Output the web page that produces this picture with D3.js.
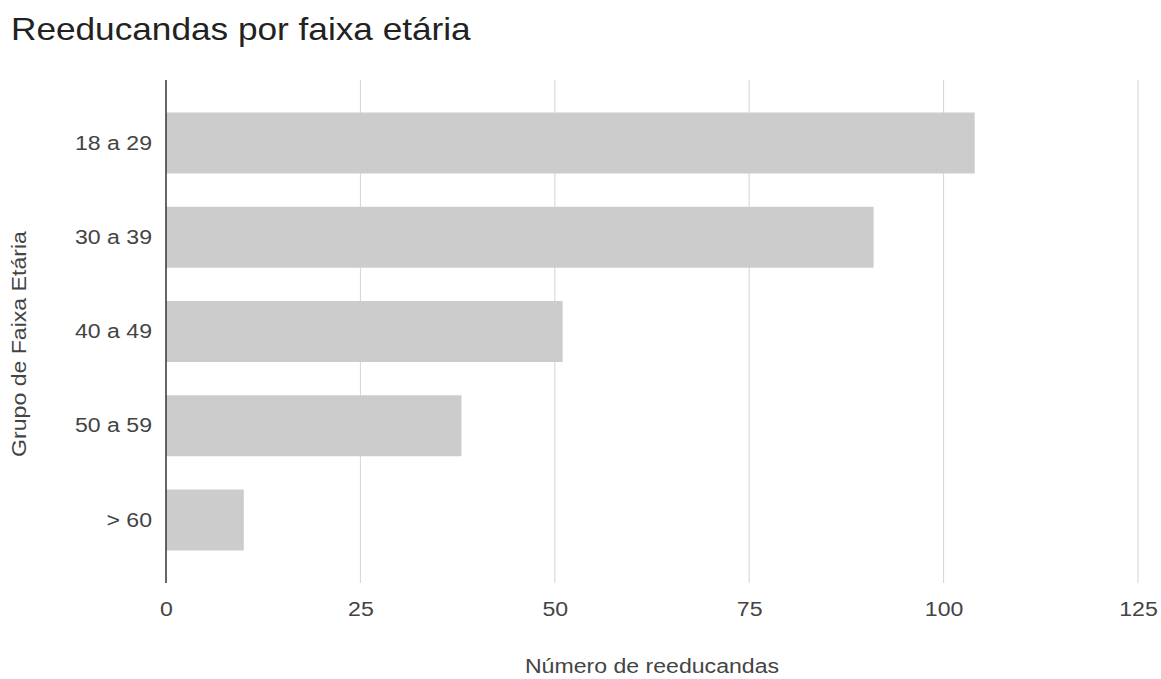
<!DOCTYPE html>
<html>
<head>
<meta charset="utf-8">
<script src="https://cdn.jsdelivr.net/npm/d3@7"></script>
<style>
  body { margin: 0; background: #fff; }
  svg { font-family: "Liberation Sans", Arial, sans-serif; }
</style>
</head>
<body>
<svg id="chart" width="1161" height="679"></svg>
<script>
// age groups and counts
const groups = ["18 a 29", "30 a 39", "40 a 49", "50 a 59", "> 60"];
const counts = [104, 91, 51, 38, 10];
const xTicks = [0, 25, 50, 75, 100, 125];

const svg = d3.select("#chart");
const plotLeft = 166, plotRight = 1138, plotTop = 80, plotBottom = 583;
const stretch = 1.1; // the reference text is a bit wider than Liberation Sans
const labelSize = 21;

const x = d3.scaleLinear().domain([0, 125]).range([plotLeft, plotRight]);
const y = d3.scaleBand()
  .domain(groups)
  .range([plotTop, plotBottom])
  .paddingInner(0.353)
  .paddingOuter(0.345);

const data = groups.map((g, i) => ({ group: g, value: counts[i] }));

// title
svg.append("text")
  .attr("transform", `translate(11,40) scale(${stretch},1)`)
  .attr("font-size", 32)
  .attr("fill", "#222")
  .text("Reeducandas por faixa etária");

// vertical gridlines
svg.append("g")
  .selectAll("line")
  .data(xTicks.filter(d => d > 0))
  .join("line")
  .attr("x1", d => x(d)).attr("x2", d => x(d))
  .attr("y1", plotTop).attr("y2", plotBottom)
  .attr("stroke", "#d4d4d4")
  .attr("stroke-width", 1);

// bars
svg.append("g")
  .selectAll("rect")
  .data(data)
  .join("rect")
  .attr("x", x(0))
  .attr("y", d => y(d.group))
  .attr("width", d => x(d.value) - x(0))
  .attr("height", y.bandwidth())
  .attr("fill", "#cccccc");

// zero baseline
svg.append("line")
  .attr("x1", x(0)).attr("x2", x(0))
  .attr("y1", plotTop).attr("y2", plotBottom)
  .attr("stroke", "#333")
  .attr("stroke-width", 1.5);

// x axis tick labels
const xAxis = svg.append("g")
  .attr("transform", `translate(0,${plotBottom})`)
  .call(d3.axisBottom(x).tickValues(xTicks).tickSize(0).tickPadding(18));
xAxis.select(".domain").remove();
xAxis.selectAll("text")
  .attr("font-size", labelSize)
  .attr("font-family", "Liberation Sans, Arial, sans-serif")
  .attr("fill", "#444")
  .attr("transform", `scale(${stretch},1)`);

// y axis labels
const yAxis = svg.append("g")
  .attr("transform", `translate(${plotLeft},0)`)
  .call(d3.axisLeft(y).tickSize(0).tickPadding(14));
yAxis.select(".domain").remove();
yAxis.selectAll("text")
  .attr("font-size", labelSize)
  .attr("font-family", "Liberation Sans, Arial, sans-serif")
  .attr("fill", "#444")
  .attr("x", -14 / stretch)
  .attr("transform", `scale(${stretch},1)`);

// axis titles
svg.append("text")
  .attr("transform", `translate(${(plotLeft + plotRight) / 2},673) scale(${stretch},1)`)
  .attr("text-anchor", "middle")
  .attr("font-size", labelSize)
  .attr("fill", "#444")
  .text("Número de reeducandas");

svg.append("text")
  .attr("transform", `translate(26,344) rotate(-90) scale(${stretch},1)`)
  .attr("text-anchor", "middle")
  .attr("font-size", labelSize)
  .attr("fill", "#444")
  .text("Grupo de Faixa Etária");
</script>
</body>
</html>
